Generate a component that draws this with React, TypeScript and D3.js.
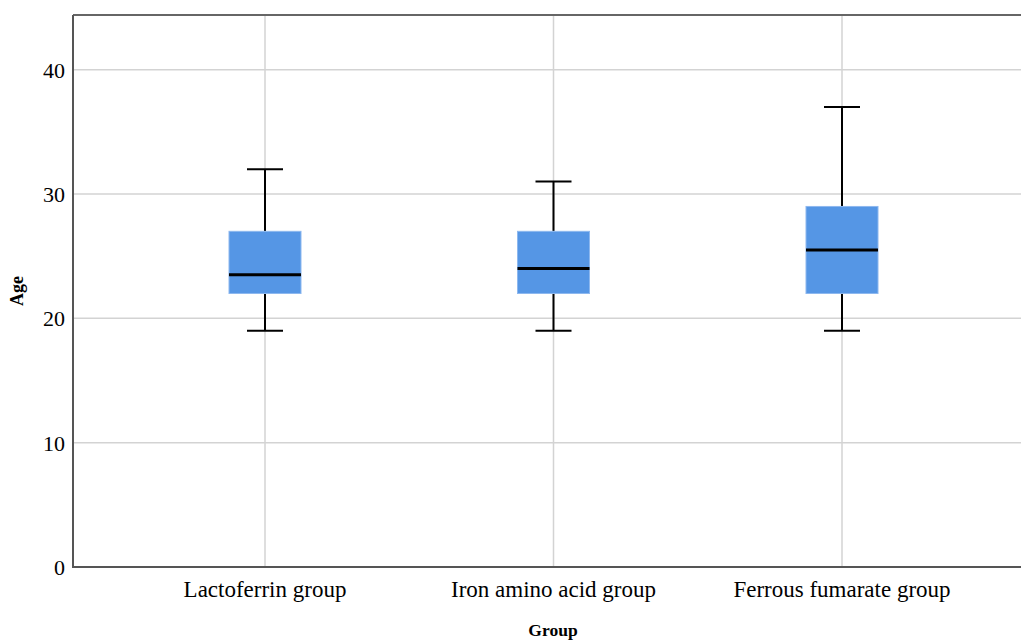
import React from "react";
import * as d3 from "d3";

const categories = ["Lactoferrin group", "Iron amino acid group", "Ferrous fumarate group"];
const whiskerLow = [19, 19, 19];
const q1 = [22, 22, 22];
const median = [23.5, 24, 25.5];
const q3 = [27, 27, 29];
const whiskerHigh = [32, 31, 37];
const yTicks = [0, 10, 20, 30, 40];

const W = 1021;
const H = 640;
const left = 73;
const top = 15;
const bottom = 567;
const right = 1030;

export default function App() {
  const y = d3.scaleLinear().domain([0, 44.4]).range([bottom, top]);
  const x = d3.scalePoint<string>().domain(categories).range([265, 842]);
  const boxW = 72;
  const capW = 36;
  const font = "'Liberation Serif', 'Times New Roman', serif";

  return (
    <svg width={W} height={H} style={{ position: "absolute", left: 0, top: 0, background: "#fff" }}>
      {/* grid */}
      {yTicks.filter((t) => t > 0).map((t) => (
        <line key={"h" + t} x1={left} x2={right} y1={y(t)} y2={y(t)} stroke="#d3d3d3" strokeWidth={1.5} />
      ))}
      {categories.map((c) => (
        <line key={"v" + c} x1={x(c)} x2={x(c)} y1={top} y2={bottom} stroke="#d3d3d3" strokeWidth={1.5} />
      ))}
      {/* boxes */}
      {categories.map((c, i) => {
        const cx = x(c) as number;
        return (
          <g key={c}>
            <line x1={cx} x2={cx} y1={y(whiskerHigh[i])} y2={y(q3[i])} stroke="#000" strokeWidth={2} />
            <line x1={cx} x2={cx} y1={y(q1[i])} y2={y(whiskerLow[i])} stroke="#000" strokeWidth={2} />
            <line x1={cx - capW / 2} x2={cx + capW / 2} y1={y(whiskerHigh[i])} y2={y(whiskerHigh[i])} stroke="#000" strokeWidth={2} />
            <line x1={cx - capW / 2} x2={cx + capW / 2} y1={y(whiskerLow[i])} y2={y(whiskerLow[i])} stroke="#000" strokeWidth={2} />
            <rect x={cx - boxW / 2} y={y(q3[i])} width={boxW} height={y(q1[i]) - y(q3[i])} fill="#5596e5" stroke="#8db8ef" strokeWidth={1} />
            <line x1={cx - boxW / 2} x2={cx + boxW / 2} y1={y(median[i])} y2={y(median[i])} stroke="#000" strokeWidth={3} />
          </g>
        );
      })}
      {/* frame */}
      <line x1={left} x2={right} y1={top} y2={top} stroke="#666" strokeWidth={2} />
      <line x1={left} x2={right} y1={bottom} y2={bottom} stroke="#555" strokeWidth={2} />
      <line x1={left} x2={left} y1={top} y2={bottom + 1} stroke="#555" strokeWidth={2} />
      {/* y tick labels */}
      {yTicks.map((t) => (
        <text key={"t" + t} x={65} y={y(t)} dy="0.36em" textAnchor="end" fontFamily={font} fontSize={22} fill="#000">
          {t}
        </text>
      ))}
      {/* x tick labels */}
      {categories.map((c) => (
        <text key={"l" + c} x={x(c)} y={597} textAnchor="middle" fontFamily={font} fontSize={23} fill="#000">
          {c}
        </text>
      ))}
      <text x={553} y={636} textAnchor="middle" fontFamily={font} fontSize={17.5} fontWeight="bold" fill="#000">
        Group
      </text>
      <text transform="translate(23,291) rotate(-90)" textAnchor="middle" fontFamily={font} fontSize={18} fontWeight="bold" fill="#000">
        Age
      </text>
    </svg>
  );
}
